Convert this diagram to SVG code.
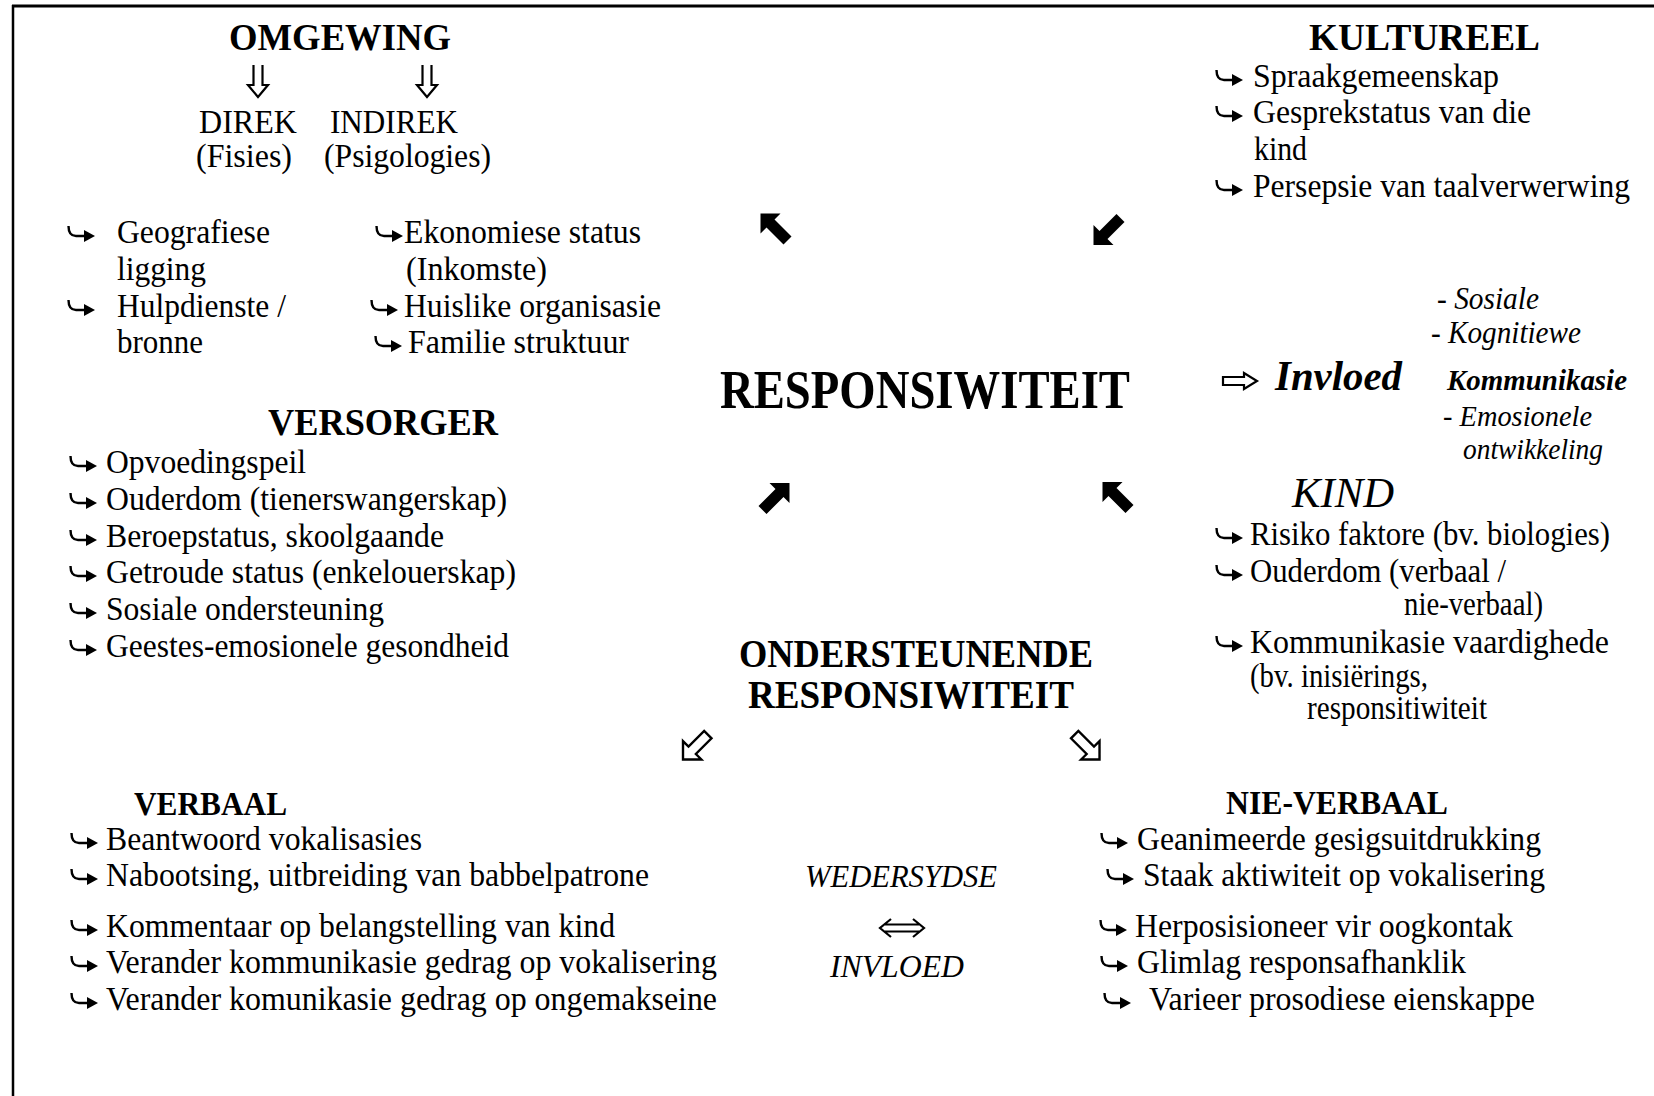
<svg xmlns="http://www.w3.org/2000/svg" xmlns:xlink="http://www.w3.org/1999/xlink" width="1654" height="1096" viewBox="0 0 1654 1096">
<style>
text{font-family:"Liberation Serif","Times New Roman",serif;fill:#000;}
.b{font-weight:bold;}
.i{font-style:italic;}
.t{font-size:33px;}
.h{font-size:38px;font-weight:bold;}
.line{stroke:#000;fill:none;}
.sym{stroke:#000;stroke-width:2.2;fill:none;stroke-linejoin:miter;}
.fill{fill:#000;}
.hollow{fill:#fff;stroke:#000;stroke-width:2.6;stroke-linejoin:miter;}
</style>
<defs>
<g id="hk">
<path d="M1.5,-17 C1.5,-10 4,-7 9,-7 L19,-7" fill="none" stroke="#000" stroke-width="2.4"/>
<polygon points="17,-13 28,-7 17,-1" fill="#000"/>
</g>
<polygon id="darr" points="0,0 20,0 14,6 31,23 23,31 6,14 0,20"/>
</defs>
<rect x="0" y="0" width="1654" height="1096" fill="#fff"/>
<g id="frame">
<line class="line" x1="12" y1="6" x2="1654" y2="6" stroke-width="3"/>
<line class="line" x1="13" y1="5" x2="13" y2="1096" stroke-width="2.5"/>
</g>

<g id="omgewing">
<text class="h" x="229" y="50" textLength="222" lengthAdjust="spacingAndGlyphs">OMGEWING</text>
<path class="sym" d="M253.5,65 V85 H248 L258,97 L268,85 H262.5 V65"/>
<path class="sym" d="M422.5,65 V85 H417 L427,97 L437,85 H431.5 V65"/>
<text class="t" x="199" y="133" textLength="98" lengthAdjust="spacingAndGlyphs">DIREK</text>
<text class="t" x="330" y="133" textLength="128" lengthAdjust="spacingAndGlyphs">INDIREK</text>
<text class="t" x="196" y="167" textLength="96" lengthAdjust="spacingAndGlyphs">(Fisies)</text>
<text class="t" x="324" y="167" textLength="167" lengthAdjust="spacingAndGlyphs">(Psigologies)</text>
<use xlink:href="#hk" x="67" y="243"/>
<text class="t" x="117" y="243" textLength="153" lengthAdjust="spacingAndGlyphs">Geografiese</text>
<text class="t" x="117" y="280" textLength="89" lengthAdjust="spacingAndGlyphs">ligging</text>
<use xlink:href="#hk" x="67" y="317"/>
<text class="t" x="117" y="317" textLength="169" lengthAdjust="spacingAndGlyphs">Hulpdienste /</text>
<text class="t" x="117" y="353" textLength="86" lengthAdjust="spacingAndGlyphs">bronne</text>
<use xlink:href="#hk" x="375" y="243"/>
<text class="t" x="404" y="243" textLength="237" lengthAdjust="spacingAndGlyphs">Ekonomiese status</text>
<text class="t" x="406" y="280" textLength="141" lengthAdjust="spacingAndGlyphs">(Inkomste)</text>
<use xlink:href="#hk" x="370" y="317"/>
<text class="t" x="404" y="317" textLength="257" lengthAdjust="spacingAndGlyphs">Huislike organisasie</text>
<use xlink:href="#hk" x="374" y="353"/>
<text class="t" x="408" y="353" textLength="221" lengthAdjust="spacingAndGlyphs">Familie struktuur</text>
</g>

<g id="kultureel">
<text class="h" x="1309" y="50" textLength="231" lengthAdjust="spacingAndGlyphs">KULTUREEL</text>
<use xlink:href="#hk" x="1215" y="87"/>
<text class="t" x="1253" y="87" textLength="246" lengthAdjust="spacingAndGlyphs">Spraakgemeenskap</text>
<use xlink:href="#hk" x="1215" y="123"/>
<text class="t" x="1253" y="123" textLength="278" lengthAdjust="spacingAndGlyphs">Gesprekstatus van die</text>
<text class="t" x="1254" y="160" textLength="53" lengthAdjust="spacingAndGlyphs">kind</text>
<use xlink:href="#hk" x="1215" y="197"/>
<text class="t" x="1253" y="197" textLength="377" lengthAdjust="spacingAndGlyphs">Persepsie van taalverwerwing</text>
</g>

<g id="responsiwiteit">
<text class="b" x="720" y="408" font-size="54" textLength="410" lengthAdjust="spacingAndGlyphs">RESPONSIWITEIT</text>
</g>

<g id="versorger">
<text class="h" x="268" y="435" textLength="230" lengthAdjust="spacingAndGlyphs">VERSORGER</text>
<use xlink:href="#hk" x="69" y="473"/>
<text class="t" x="106" y="473" textLength="200" lengthAdjust="spacingAndGlyphs">Opvoedingspeil</text>
<use xlink:href="#hk" x="69" y="510"/>
<text class="t" x="106" y="510" textLength="401" lengthAdjust="spacingAndGlyphs">Ouderdom (tienerswangerskap)</text>
<use xlink:href="#hk" x="69" y="547"/>
<text class="t" x="106" y="547" textLength="338" lengthAdjust="spacingAndGlyphs">Beroepstatus, skoolgaande</text>
<use xlink:href="#hk" x="69" y="583"/>
<text class="t" x="106" y="583" textLength="410" lengthAdjust="spacingAndGlyphs">Getroude status (enkelouerskap)</text>
<use xlink:href="#hk" x="69" y="620"/>
<text class="t" x="106" y="620" textLength="278" lengthAdjust="spacingAndGlyphs">Sosiale ondersteuning</text>
<use xlink:href="#hk" x="69" y="657"/>
<text class="t" x="106" y="657" textLength="403" lengthAdjust="spacingAndGlyphs">Geestes-emosionele gesondheid</text>
</g>

<g id="invloed">
<text class="i" x="1437" y="309" font-size="30.5" textLength="102" lengthAdjust="spacingAndGlyphs">- Sosiale</text>
<text class="i" x="1431" y="343" font-size="30.5" textLength="150" lengthAdjust="spacingAndGlyphs">- Kognitiewe</text>
<path class="sym" d="M1223,377 H1244 V373 L1257,381 L1244,389 V385 H1223 Z"/>
<text class="b i" x="1275" y="390" font-size="43" textLength="127" lengthAdjust="spacingAndGlyphs">Invloed</text>
<text class="b i" x="1447" y="390" font-size="29" textLength="180" lengthAdjust="spacingAndGlyphs">Kommunikasie</text>
<text class="i" x="1443" y="426" font-size="30" textLength="149" lengthAdjust="spacingAndGlyphs">- Emosionele</text>
<text class="i" x="1463" y="459" font-size="30" textLength="140" lengthAdjust="spacingAndGlyphs">ontwikkeling</text>
</g>

<g id="kind">
<text class="i" x="1292" y="507" font-size="42" textLength="102" lengthAdjust="spacingAndGlyphs">KIND</text>
<use xlink:href="#hk" x="1215" y="545"/>
<text class="t" x="1250" y="545" textLength="360" lengthAdjust="spacingAndGlyphs">Risiko faktore (bv. biologies)</text>
<use xlink:href="#hk" x="1215" y="582"/>
<text class="t" x="1250" y="582" textLength="256" lengthAdjust="spacingAndGlyphs">Ouderdom (verbaal /</text>
<text class="t" x="1404" y="615" textLength="139" lengthAdjust="spacingAndGlyphs">nie-verbaal)</text>
<use xlink:href="#hk" x="1215" y="653"/>
<text class="t" x="1250" y="653" textLength="359" lengthAdjust="spacingAndGlyphs">Kommunikasie vaardighede</text>
<text class="t" x="1250" y="687" textLength="178" lengthAdjust="spacingAndGlyphs">(bv. inisiërings,</text>
<text class="t" x="1307" y="719" textLength="180" lengthAdjust="spacingAndGlyphs">responsitiwiteit</text>
</g>

<g id="ondersteunende">
<text class="b" x="739" y="667" font-size="40" textLength="354" lengthAdjust="spacingAndGlyphs">ONDERSTEUNENDE</text>
<text class="b" x="748" y="708" font-size="40" textLength="326" lengthAdjust="spacingAndGlyphs">RESPONSIWITEIT</text>
</g>

<g id="verbaal">
<text class="b" x="134" y="815" font-size="33" textLength="153" lengthAdjust="spacingAndGlyphs">VERBAAL</text>
<use xlink:href="#hk" x="70" y="850"/>
<text class="t" x="106" y="850" textLength="316" lengthAdjust="spacingAndGlyphs">Beantwoord vokalisasies</text>
<use xlink:href="#hk" x="70" y="886"/>
<text class="t" x="106" y="886" textLength="543" lengthAdjust="spacingAndGlyphs">Nabootsing, uitbreiding van babbelpatrone</text>
<use xlink:href="#hk" x="70" y="937"/>
<text class="t" x="106" y="937" textLength="509" lengthAdjust="spacingAndGlyphs">Kommentaar op belangstelling van kind</text>
<use xlink:href="#hk" x="70" y="973"/>
<text class="t" x="106" y="973" textLength="611" lengthAdjust="spacingAndGlyphs">Verander kommunikasie gedrag op vokalisering</text>
<use xlink:href="#hk" x="70" y="1010"/>
<text class="t" x="106" y="1010" textLength="611" lengthAdjust="spacingAndGlyphs">Verander komunikasie gedrag op ongemakseine</text>
</g>

<g id="wedersydse">
<text class="i" x="805" y="887" font-size="32" textLength="192" lengthAdjust="spacingAndGlyphs">WEDERSYDSE</text>
<path class="sym" d="M891,919 L880,928 L891,937 M913,919 L924,928 L913,937 M885,924.5 H919 M885,931.5 H919"/>
<text class="i" x="830" y="977" font-size="32" textLength="134" lengthAdjust="spacingAndGlyphs">INVLOED</text>
</g>

<g id="nie-verbaal">
<text class="b" x="1226" y="814" font-size="33" textLength="222" lengthAdjust="spacingAndGlyphs">NIE-VERBAAL</text>
<use xlink:href="#hk" x="1100" y="850"/>
<text class="t" x="1137" y="850" textLength="404" lengthAdjust="spacingAndGlyphs">Geanimeerde gesigsuitdrukking</text>
<use xlink:href="#hk" x="1106" y="886"/>
<text class="t" x="1143" y="886" textLength="402" lengthAdjust="spacingAndGlyphs">Staak aktiwiteit op vokalisering</text>
<use xlink:href="#hk" x="1099" y="937"/>
<text class="t" x="1135" y="937" textLength="378" lengthAdjust="spacingAndGlyphs">Herposisioneer vir oogkontak</text>
<use xlink:href="#hk" x="1100" y="973"/>
<text class="t" x="1137" y="973" textLength="329" lengthAdjust="spacingAndGlyphs">Glimlag responsafhanklik</text>
<use xlink:href="#hk" x="1103" y="1010"/>
<text class="t" x="1149" y="1010" textLength="386" lengthAdjust="spacingAndGlyphs">Varieer prosodiese eienskappe</text>
</g>

<g id="connectors">
<use xlink:href="#darr" class="fill" transform="translate(760.5,213.5)"/>
<use xlink:href="#darr" class="fill" transform="translate(1093.5,214) rotate(-90,15.5,15.5)"/>
<use xlink:href="#darr" class="fill" transform="translate(758.5,483) rotate(90,15.5,15.5)"/>
<use xlink:href="#darr" class="fill" transform="translate(1102.5,482)"/>
<use xlink:href="#darr" class="hollow" transform="translate(683,731) scale(0.92) rotate(-90,15.5,15.5)"/>
<use xlink:href="#darr" class="hollow" transform="translate(1071,731) scale(0.92) rotate(180,15.5,15.5)"/>
</g>
</svg>
